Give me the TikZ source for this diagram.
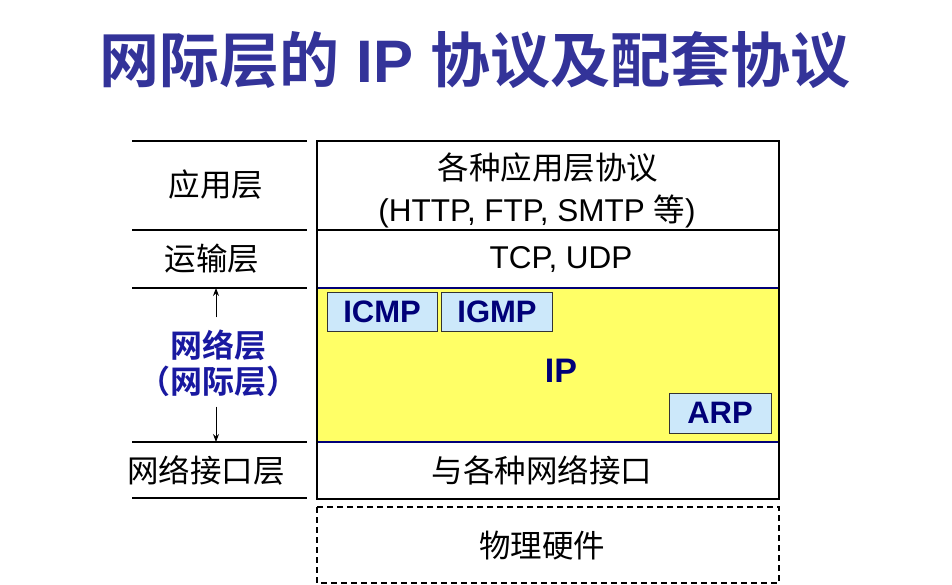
\documentclass[tikz,border=0pt]{standalone}
\usepackage{fontspec}
\setmainfont{Liberation Sans}
\newfontfamily\cjk{Noto Sans CJK SC}[BoldFont={Noto Sans CJK SC Bold}]
\usetikzlibrary{arrows.meta}
\definecolor{titleblue}{RGB}{51,51,153}
\definecolor{netblue}{RGB}{25,25,160}
\definecolor{ipblue}{RGB}{0,0,120}
\definecolor{ipyellow}{RGB}{255,255,102}
\definecolor{protoblue}{RGB}{204,232,250}
\tikzset{
  updown/.style={-{Stealth[length=8pt,width=6pt]}, line width=1pt},
  layer/.style={inner sep=0pt, font=\cjk\fontsize{31.5}{34}\selectfont},
  netlayer/.style={inner sep=0pt, text=netblue, font=\cjk\bfseries\fontsize{32}{34}\selectfont},
  latin/.style={inner sep=0pt, font=\fontsize{31.5}{34}\selectfont},
  proto/.style={draw=black!80, line width=0.8pt, fill=protoblue, minimum height=39pt,
    inner sep=0pt, text=ipblue, font=\bfseries\fontsize{31}{34}\selectfont},
}
\begin{document}
\begin{tikzpicture}[x=1pt,y=-1pt]
      \useasboundingbox (0,0) rectangle (952,585);
      \def\xl{317};
      \def\xr{779};
      \node (title) at (475,60) [text=titleblue, font=\bfseries\fontsize{60}{64}\selectfont]
        {{\cjk 网际层的} IP {\cjk 协议及配套协议}};
      % left column
      \foreach \y in {141,230,288,442,498}
        \draw[line width=1.8pt] (132,\y) -- (307,\y);
      \node (app) at (216,185) [layer] {应用层};
      \node (trans) at (212,259) [layer] {运输层};
      \node (net) at (218,345) [netlayer] {网络层};
      \node (inet) at (218,381) [netlayer] {（网际层）};
      \node (link) at (206,470) [layer] {网络接口层};
      \coordinate (nettop) at (216,288);
      \coordinate (netbot) at (216,442);
      \draw[updown, shorten <=12pt] (net.north -| nettop) -- (nettop);
      \draw[updown, shorten <=10pt] (inet.south -| netbot) -- (netbot);
      % protocol stack
      \fill[ipyellow] (\xl,288) rectangle (\xr,442);
      \draw[ipblue, line width=1.6pt] (\xl,288) -- (\xr,288);
      \draw[ipblue, line width=1.6pt] (\xl,442) -- (\xr,442);
      \draw[line width=1.6pt] (\xl,230) -- (\xr,230);
      \draw[line width=2.6pt] (\xl,141) rectangle (\xr,499);
      \draw[dashed, dash pattern=on 6pt off 4pt, line width=1.6pt] (\xl,507) rectangle (\xr,583);
      \node (apps) at (548,168) [layer] {各种应用层协议};
      \node (appp) at (537,211) [latin] {(HTTP, FTP, SMTP {\cjk 等})};
      \node (tcp) at (561,260) [latin] {TCP, UDP};
      \node (icmp) at (382,312) [proto, minimum width=110pt] {ICMP};
      \node (igmp) at (497,312) [proto, minimum width=111pt] {IGMP};
      \node (ip) at (561,371) [text=ipblue, font=\bfseries\fontsize{34}{38}\selectfont] {IP};
      \node (arp) at (720,413) [proto, minimum width=102pt, minimum height=40pt] {ARP};
      \node (iface) at (542,470) [layer] {与各种网络接口};
      \node (phys) at (542,546) [layer] {物理硬件};
    \end{tikzpicture}
\end{document}
